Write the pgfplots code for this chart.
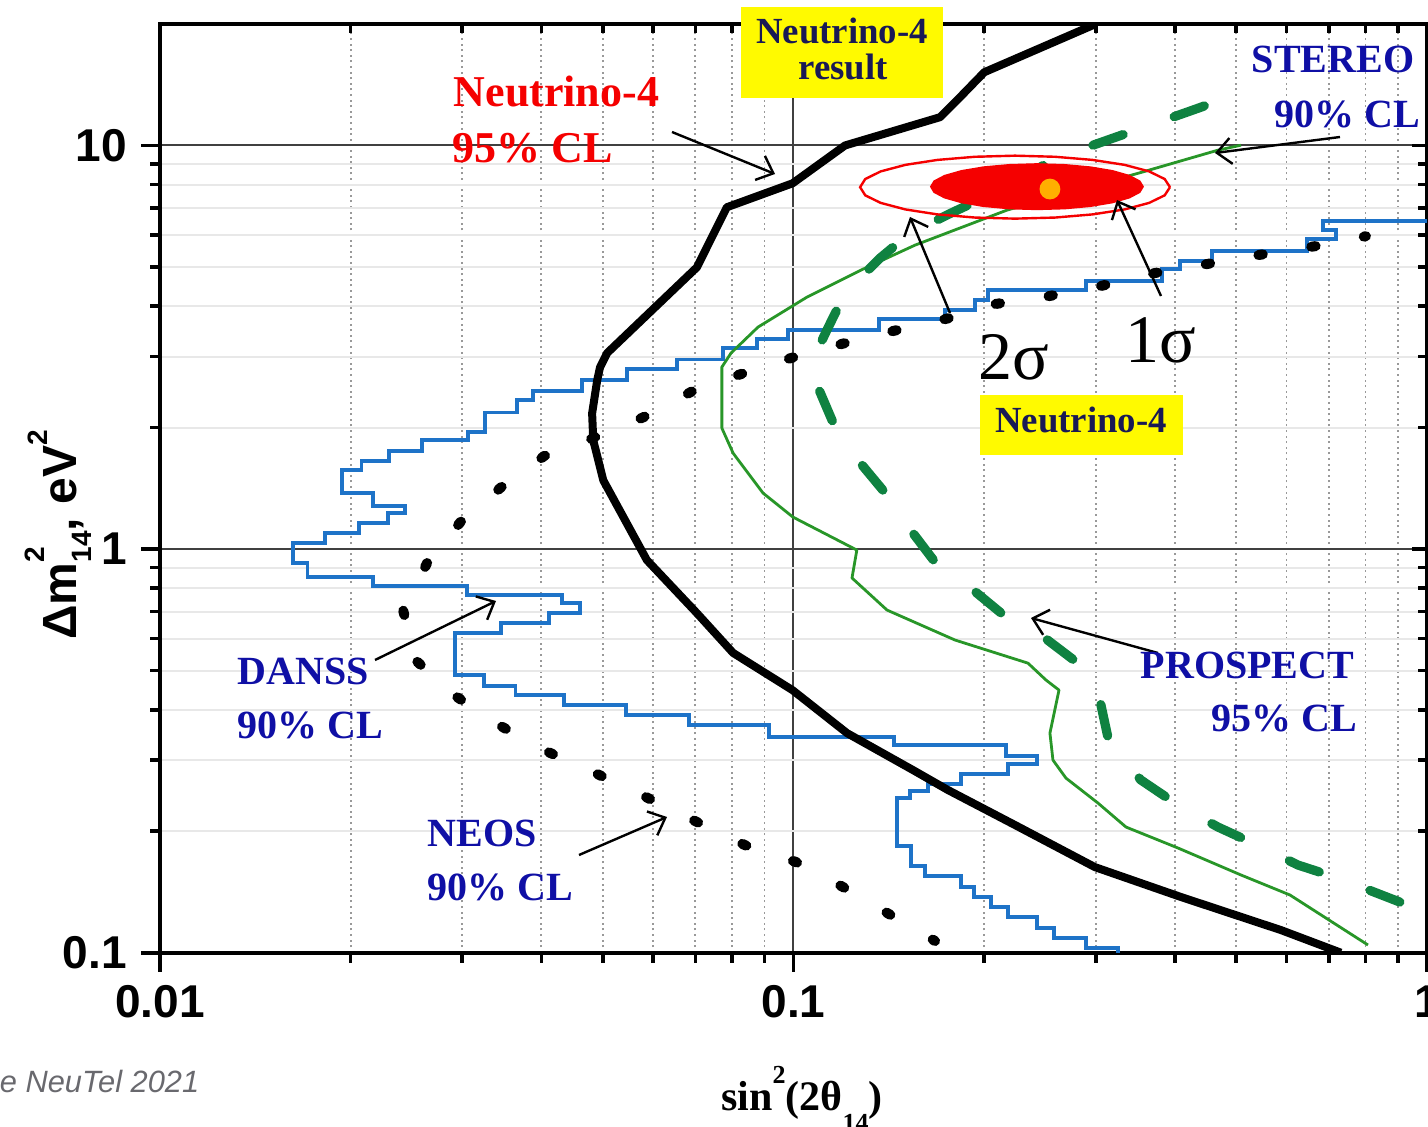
\documentclass[border=0pt]{standalone}
\usepackage{fontspec}
\setmainfont{Liberation Serif}
\newfontfamily\arialfont{Liberation Sans}
\usepackage{pgfplots}
\pgfplotsset{compat=1.18}
\usetikzlibrary{arrows.meta}
\definecolor{dansblue}{RGB}{30,115,200}
\definecolor{prosgreen}{RGB}{15,130,65}
\definecolor{stergreen}{RGB}{40,150,40}
\definecolor{labblue}{RGB}{15,15,165}
\definecolor{nred}{RGB}{245,0,0}
\definecolor{boxyellow}{RGB}{255,250,0}
\definecolor{dotorange}{RGB}{255,175,0}
\definecolor{boxtext}{RGB}{25,25,85}
\definecolor{credit}{RGB}{105,105,110}
\begin{document}
\begin{tikzpicture}
\useasboundingbox (-40pt,-43.575pt) rectangle (317pt,238.175pt);
\begin{axis}[
  at={(0,0)}, anchor=south west,
  scale only axis, width=316.75pt, height=232.175pt,
  xmode=log, ymode=log,
  xmin=0.01, xmax=1, ymin=0.1, ymax=20,
  xtick={0.01,0.1,1}, xticklabels={0.01,0.1,1},
  ytick={0.1,1,10}, yticklabels={0.1,1,10},
  minor xtick={0.02,0.03,0.04,0.05,0.06,0.07,0.08,0.09,0.2,0.3,0.4,0.5,0.6,0.7,0.8,0.9},
  minor ytick={0.2,0.3,0.4,0.5,0.6,0.7,0.8,0.9,2,3,4,5,6,7,8,9},
  xtick pos=left, ytick pos=left, tick align=outside,
  major tick length=4.75pt, minor tick length=2.5pt,
  tick style={black, line width=0.9pt},
  axis line style={black, line width=1pt},
  grid=both,
  major grid style={black!75, line width=0.5pt},
  minor x grid style={black!40, line width=0.45pt, dash pattern=on 0.5pt off 0.9pt},
  minor y grid style={black!9, line width=0.5pt},
  tick label style={font=\arialfont\bfseries\fontsize{11.5}{13}\selectfont},
]
% DANSS 90% CL
\addplot[dansblue, line width=0.95pt, line join=miter] coordinates {
(1.0,6.494) (0.6852,6.494) (0.6852,6.17) (0.7185,6.17) (0.7185,5.86) (0.6465,5.86) (0.6465,5.47) (0.4577,5.47) (0.4577,5.17) (0.4074,5.17) (0.4074,4.94) (0.3816,4.94) (0.3816,4.61) (0.2895,4.61) (0.2895,4.38) (0.2028,4.38) (0.2028,4.14) (0.1934,4.14) (0.1934,3.91) (0.1734,3.91) (0.1734,3.71) (0.1365,3.71) (0.1365,3.49) (0.0980,3.49) (0.0980,3.31) (0.0876,3.31) (0.0876,3.15) (0.0774,3.15) (0.0774,2.95) (0.0655,2.95) (0.0655,2.79) (0.0546,2.79) (0.0546,2.62) (0.0464,2.62) (0.0464,2.46) (0.0388,2.46) (0.0388,2.34) (0.0366,2.34) (0.0366,2.18) (0.0326,2.18) (0.0326,1.95) (0.0306,1.95) (0.0306,1.86) (0.0259,1.86) (0.0259,1.75) (0.0230,1.75) (0.0230,1.65) (0.0208,1.65) (0.0208,1.57) (0.0194,1.57) (0.0194,1.377) (0.0217,1.377) (0.0217,1.278) (0.0244,1.278) (0.0244,1.228) (0.0229,1.228) (0.0229,1.160) (0.0206,1.160) (0.0206,1.095) (0.0182,1.095) (0.0182,1.035) (0.0162,1.035) (0.0162,0.923) (0.0171,0.923) (0.0171,0.852) (0.0217,0.852) (0.0217,0.810) (0.0305,0.810) (0.0305,0.7695) (0.0431,0.7695) (0.0431,0.735) (0.0460,0.735) (0.0460,0.694) (0.0411,0.694) (0.0411,0.6558) (0.0345,0.6558) (0.0345,0.6194) (0.0292,0.6194) (0.0292,0.4875) (0.0325,0.4875) (0.0325,0.4578) (0.0364,0.4578) (0.0364,0.4348) (0.0434,0.4348) (0.0434,0.4107) (0.0544,0.4107) (0.0544,0.3879) (0.0684,0.3879) (0.0684,0.3664) (0.0915,0.3664) (0.0915,0.3420) (0.1441,0.3420) (0.1441,0.3268) (0.2166,0.3268) (0.2166,0.3070) (0.2423,0.3070) (0.2423,0.2934) (0.2182,0.2934) (0.2182,0.2771) (0.1838,0.2771) (0.1838,0.2618) (0.1631,0.2618) (0.1631,0.2516) (0.1528,0.2516) (0.1528,0.2415) (0.1457,0.2415) (0.1457,0.1837) (0.1533,0.1837) (0.1533,0.1640) (0.1613,0.1640) (0.1613,0.1549) (0.1838,0.1549) (0.1838,0.1455) (0.1927,0.1455) (0.1927,0.1374) (0.2050,0.1374) (0.2050,0.1298) (0.2182,0.1298) (0.2182,0.1226) (0.2423,0.1226) (0.2423,0.1151) (0.2578,0.1151) (0.2578,0.1088) (0.2895,0.1088) (0.2895,0.1027) (0.3253,0.1027) (0.3253,0.099)
};
% NEOS 90% CL (dotted)
\addplot[black, line width=2.5pt, line cap=round, dash pattern=on 1.1pt off 12.27pt, dash phase=0.55pt] coordinates {
(0.801,5.96) (0.666,5.63) (0.541,5.35) (0.448,5.08) (0.372,4.83) (0.3046,4.48) (0.2522,4.23) (0.2088,4.05) (0.1754,3.73) (0.1436,3.47) (0.1189,3.22) (0.0988,2.97) (0.0818,2.70) (0.0692,2.46) (0.0579,2.12) (0.0481,1.88) (0.0404,1.70) (0.0345,1.42) (0.0298,1.166) (0.0264,0.923) (0.0242,0.706) (0.0253,0.531) (0.0293,0.432) (0.0343,0.3664) (0.0410,0.3142) (0.0490,0.2772) (0.0585,0.2430) (0.0699,0.2120) (0.0838,0.1848) (0.1009,0.1678) (0.1197,0.1455) (0.1415,0.1247) (0.1673,0.1069)
};
% Neutrino-4 95% CL
\addplot[black, line width=2pt, line join=round] coordinates {
(0.300,20.0) (0.2001,15.19) (0.1832,13.17) (0.1703,11.75) (0.1206,10.0) (0.0997,8.06) (0.0785,7.03) (0.0704,4.99) (0.0508,3.06) (0.0495,2.82) (0.0490,2.62) (0.0481,2.17) (0.0483,1.86) (0.0501,1.48) (0.0587,0.939) (0.0704,0.694) (0.0803,0.553) (0.0997,0.447) (0.1215,0.350) (0.1544,0.2835) (0.1754,0.2529) (0.2237,0.2072) (0.299,0.1630) (0.4090,0.1374) (0.588,0.1138) (0.7313,0.1)
};
% STEREO 90% CL
\addplot[stergreen, line width=0.7pt, line join=round] coordinates {
(0.807,0.1045) (0.6077,0.1390) (0.5086,0.1558) (0.4046,0.1817) (0.3349,0.2048) (0.3024,0.2349) (0.2692,0.2708) (0.2568,0.3001) (0.2540,0.3500) (0.2625,0.4474) (0.2504,0.4737) (0.2345,0.5217) (0.1799,0.5952) (0.1405,0.7062) (0.1237,0.848) (0.1259,0.9945) (0.0998,1.2004) (0.0895,1.3770) (0.0803,1.7287) (0.0771,1.9940) (0.0771,2.8248) (0.0797,3.0586) (0.0879,3.5481) (0.1050,4.2091) (0.1278,4.9117) (0.1555,5.6624) (0.2173,6.9167) (0.3550,8.5879) (0.4678,9.7365) (0.5086,10.016)
};
% PROSPECT 95% CL (dashed)
\addplot[prosgreen, line width=2.3pt, line cap=round, dash pattern=on 8pt off 13.5pt] coordinates {
(0.906,0.1335) (0.7238,0.1531) (0.6258,0.1649) (0.5312,0.1869) (0.4678,0.2048) (0.4001,0.2349) (0.3537,0.2677) (0.3160,0.3230) (0.3046,0.4224) (0.2812,0.5216) (0.2495,0.6017) (0.2165,0.6785) (0.1906,0.8002) (0.1673,0.9281) (0.1544,1.0952) (0.1384,1.3996) (0.1264,1.6614) (0.1154,2.0626) (0.1081,2.6214) (0.1081,3.02) (0.1129,3.4864) (0.1206,4.3052) (0.1369,5.2564) (0.1527,6.0628) (0.1786,6.8375) (0.2118,7.7527) (0.2597,9.3) (0.3229,10.49) (0.3734,11.36) (0.4398,12.44) (0.5160,13.71)
};
% Neutrino-4 1 sigma region
\addplot[draw=none, fill=nred] coordinates {
(0.3575,7.906) (0.3528,8.185) (0.3394,8.453) (0.3190,8.692) (0.2943,8.878) (0.2680,8.997) (0.2423,9.040) (0.2191,8.997) (0.1995,8.878) (0.1841,8.692) (0.1730,8.453) (0.1664,8.185) (0.1642,7.906) (0.1664,7.634) (0.1730,7.393) (0.1841,7.190) (0.1995,7.039) (0.2191,6.946) (0.2423,6.914) (0.2680,6.946) (0.2943,7.039) (0.3190,7.190) (0.3394,7.393) (0.3528,7.634) (0.3575,7.906)
};
% Neutrino-4 2 sigma contour
\addplot[nred, line width=0.6pt] coordinates {
(0.3930,7.884) (0.3855,8.258) (0.3643,8.625) (0.3332,8.953) (0.2965,9.210) (0.2588,9.376) (0.2237,9.435) (0.1934,9.376) (0.1688,9.210) (0.1502,8.953) (0.1373,8.625) (0.1298,8.258) (0.1274,7.884) (0.1298,7.525) (0.1373,7.207) (0.1502,6.943) (0.1688,6.749) (0.1934,6.629) (0.2237,6.588) (0.2588,6.629) (0.2965,6.749) (0.3332,6.943) (0.3643,7.207) (0.3855,7.525) (0.3930,7.884)
};
% best fit point
\addplot[only marks, mark=*, mark size=2.4pt, color=dotorange, mark options={draw=dotorange, fill=dotorange}] coordinates {(0.254,7.80)};
\end{axis}
% inward ticks on top and right
\begin{axis}[
  at={(0,0)}, anchor=south west,
  scale only axis, width=316.75pt, height=232.175pt,
  xmode=log, ymode=log,
  xmin=0.01, xmax=1, ymin=0.1, ymax=20,
  xtick={0.01,0.1,1}, xticklabels={},
  ytick={0.1,1,10}, yticklabels={},
  minor xtick={0.02,0.03,0.04,0.05,0.06,0.07,0.08,0.09,0.2,0.3,0.4,0.5,0.6,0.7,0.8,0.9},
  minor ytick={0.2,0.3,0.4,0.5,0.6,0.7,0.8,0.9,2,3,4,5,6,7,8,9},
  xtick pos=right, ytick pos=right, tick align=inside,
  major tick length=3.75pt, minor tick length=2.25pt,
  tick style={black, line width=0.9pt},
  axis line style={draw=none},
]
\end{axis}
\begin{scope}[shift={(-40pt,238.175pt)}, x=0.25pt, y=-0.25pt]
\tikzset{arr/.style={black, line width=0.6pt, -{Straight Barb[length=3.6pt,width=6.5pt]}},
         lab/.style={inner sep=0pt, font=\bfseries\fontsize{10}{12}\selectfont, text=labblue}}
% arrows
\draw[arr] (672,132) -- (775,174);
\draw[arr] (1340,137) -- (1215,153);
\draw[arr] (950,313) -- (910,217);
\draw[arr] (1161,296) -- (1117,200);
\draw[arr] (1158,653) -- (1031,618);
\draw[arr] (375,660) -- (496,601);
\draw[arr] (579,855) -- (667,817);
% yellow boxes
\fill[boxyellow] (741,7) rectangle (943,98);
\fill[boxyellow] (980,395) rectangle (1183,455);
\node[inner sep=0pt, anchor=base, text=boxtext, font=\bfseries\fontsize{9.2}{11}\selectfont] at (842,43) {Neutrino-4};
\node[inner sep=0pt, anchor=base, text=boxtext, font=\bfseries\fontsize{9.2}{11}\selectfont] at (843,80) {result};
\node[inner sep=0pt, anchor=base, text=boxtext, font=\bfseries\fontsize{9.2}{11}\selectfont] at (1081,432) {Neutrino-4};
% red label
\node[inner sep=0pt, anchor=base west, text=nred, font=\bfseries\fontsize{11}{13}\selectfont] at (453,107) {Neutrino-4};
\node[inner sep=0pt, anchor=base west, text=nred, font=\bfseries\fontsize{11}{13}\selectfont] at (452,163) {95\% CL};
% blue labels
\node[lab, anchor=base east] at (1415,73) {STEREO};
\node[lab, anchor=base east] at (1421,127) {90\% CL};
\node[lab, anchor=base east] at (1355,678) {PROSPECT};
\node[lab, anchor=base east] at (1358,732) {95\% CL};
\node[lab, anchor=base west] at (237,685) {DANSS};
\node[lab, anchor=base west] at (237,738) {90\% CL};
\node[lab, anchor=base west] at (427,847) {NEOS};
\node[lab, anchor=base west] at (427,900) {90\% CL};
% sigma labels
\node[inner sep=0pt, anchor=base west, font=\fontsize{17}{19}\selectfont] at (978,380) {2σ};
\node[inner sep=0pt, anchor=base west, font=\fontsize{17}{19}\selectfont] at (1125,362) {1σ};
% axis titles
\node[inner sep=0pt, anchor=base, font=\bfseries\fontsize{10.5}{12}\selectfont] at (802,1110) {sin\raisebox{0.62em}{\fontsize{6.5}{7}\selectfont 2}(2θ\raisebox{-0.5em}{\fontsize{6.5}{7}\selectfont 14})};
\node[inner sep=0pt, anchor=base, rotate=90, font=\arialfont\bfseries\fontsize{12}{14}\selectfont] at (77,535) {Δm\rlap{\raisebox{0.68em}{\fontsize{7}{8}\selectfont 2}}\raisebox{-0.3em}{\fontsize{7}{8}\selectfont 14}, eV\raisebox{0.62em}{\fontsize{7}{8}\selectfont 2}};
% credit
\node[inner sep=0pt, anchor=base east, text=credit, font=\arialfont\itshape\fontsize{7.7}{9}\selectfont] at (200,1093) {e NeuTel 2021};
\end{scope}
\end{tikzpicture}
\end{document}
